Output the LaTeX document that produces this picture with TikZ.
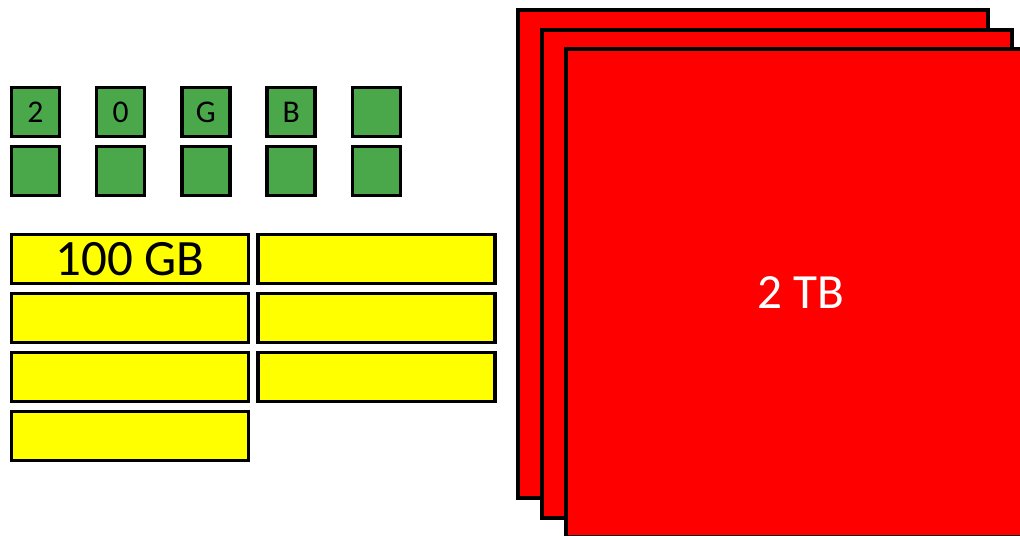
\documentclass[tikz,border=0pt]{standalone}
\usepackage{fontspec}
\setmainfont{Carlito}
\usepackage{xcolor}
\definecolor{ChunkGreen}{HTML}{4AA84A}
\definecolor{BlockYellow}{HTML}{FFFF00}
\definecolor{DiskRed}{HTML}{FF0000}
\usepackage{tikz}
\usetikzlibrary{positioning}

\tikzset{
  smallbox/.style={draw=black, line width=1.9pt, fill=ChunkGreen, minimum width=0.96cm,
    minimum height=0.98cm, inner sep=0pt, font=\fontsize{18pt}{18pt}\selectfont},
  midbox/.style={draw=black, line width=1.9pt, fill=BlockYellow, minimum width=4.74cm,
    minimum height=0.98cm, inner sep=0pt, font=\fontsize{29pt}{29pt}\selectfont},
  bigbox/.style={draw=black, line width=2pt, fill=DiskRed, minimum width=9.4cm,
    minimum height=9.76cm, inner sep=0pt, text=white, font=\fontsize{28pt}{28pt}\selectfont}
}

\begin{document}
\begin{tikzpicture}[x=0.02cm, y=-0.02cm]
    \useasboundingbox (0,0) rectangle (1020,536);
    \clip (0,0) rectangle (1020,536);

    % Draw green chunks (two rows)
    \foreach \lbl [count=\col from 0] in {2,0,G,B,{}} {
      \node[smallbox] (g1\col) at (35.5+\col*85.2, 112) {\lbl};
      \node[smallbox] (g2\col) at (35.5+\col*85.2, 171) {};
    }

    % Draw yellow blocks
    \node[midbox] (y1) at (130, 259) {\raisebox{-2pt}{100 GB}};
    \foreach \r in {2,3,4} {
      \node[midbox] (y\r) at (130, 259+\r*59-59) {};
    }
    \foreach \r in {1,2,3} {
      \node[midbox] (z\r) at (376.5, 259+\r*59-59) {};
    }

    % Draw stacked red disks
    \node[bigbox] (d1) at (753, 254) {};
    \node[bigbox] (d2) at (777, 274) {};
    \node[bigbox] (d3) at (801, 293) {2 TB};
\end{tikzpicture}
\end{document}
